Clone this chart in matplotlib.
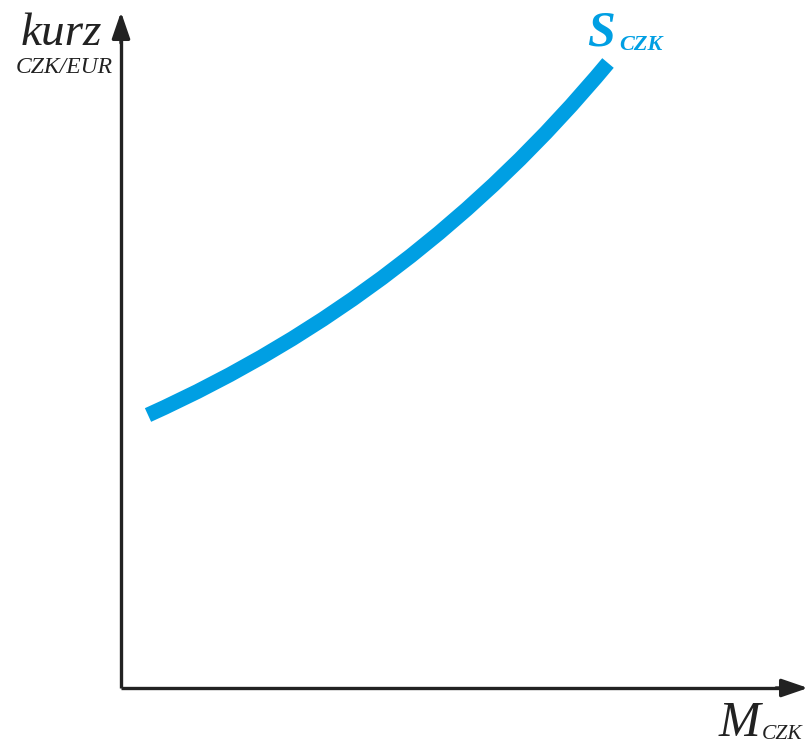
import matplotlib
matplotlib.use("Agg")
import matplotlib.pyplot as plt
from matplotlib.path import Path
from matplotlib.patches import PathPatch

# Supply curve S_CZK (quantity of CZK vs. exchange rate CZK/EUR), arbitrary units
# drawn as a quadratic Bezier: start point, control point, end point
curve_quantity = [27, 294, 487]
curve_rate = [273, 393, 625]

blue = "#009FE3"
dark = "#222222"
serif = ["Liberation Serif", "DejaVu Serif"]

fig = plt.figure(figsize=(8.11, 7.46), dpi=100)
ax = fig.add_axes([0, 0, 1, 1])
ax.set_xlim(-121, 690)
ax.set_ylim(-58, 688)
ax.axis("off")

# axes with arrows
ax.plot([0, 660], [0, 0], color=dark, lw=2.4, solid_capstyle="butt")
ax.plot([0, 0], [0, 650], color=dark, lw=2.4, solid_capstyle="butt")
ax.annotate("", xy=(687, 0), xytext=(655, 0),
            arrowprops=dict(arrowstyle="-|>,head_length=1.6,head_width=0.55",
                            color=dark, lw=2.4, shrinkA=0, shrinkB=0))
ax.annotate("", xy=(0, 676), xytext=(0, 645),
            arrowprops=dict(arrowstyle="-|>,head_length=1.6,head_width=0.55",
                            color=dark, lw=2.4, shrinkA=0, shrinkB=0))

# curve
path = Path(list(zip(curve_quantity, curve_rate)),
            [Path.MOVETO, Path.CURVE3, Path.CURVE3])
ax.add_patch(PathPatch(path, fill=False, edgecolor=blue, lw=10.8,
                       capstyle="butt"))

# labels
ax.text(-19, 643, "kurz", family=serif, style="italic", fontsize=34,
        color=dark, ha="right", va="baseline")
ax.text(-8, 615, "CZK/EUR", family=serif, style="italic", fontsize=17,
        color=dark, ha="right", va="baseline")
ax.text(466, 643, "S", family=serif, style="italic", weight="bold",
        fontsize=36, color=blue, ha="left", va="baseline")
ax.text(498, 638, "CZK", family=serif, style="italic", weight="bold",
        fontsize=16, color=blue, ha="left", va="baseline")
ax.text(598, -48, "M", family=serif, style="italic", fontsize=36,
        color=dark, ha="left", va="baseline")
ax.text(641, -51, "CZK", family=serif, style="italic", fontsize=15.5,
        color=dark, ha="left", va="baseline")

fig.savefig("out.png", dpi=100, facecolor="white")
